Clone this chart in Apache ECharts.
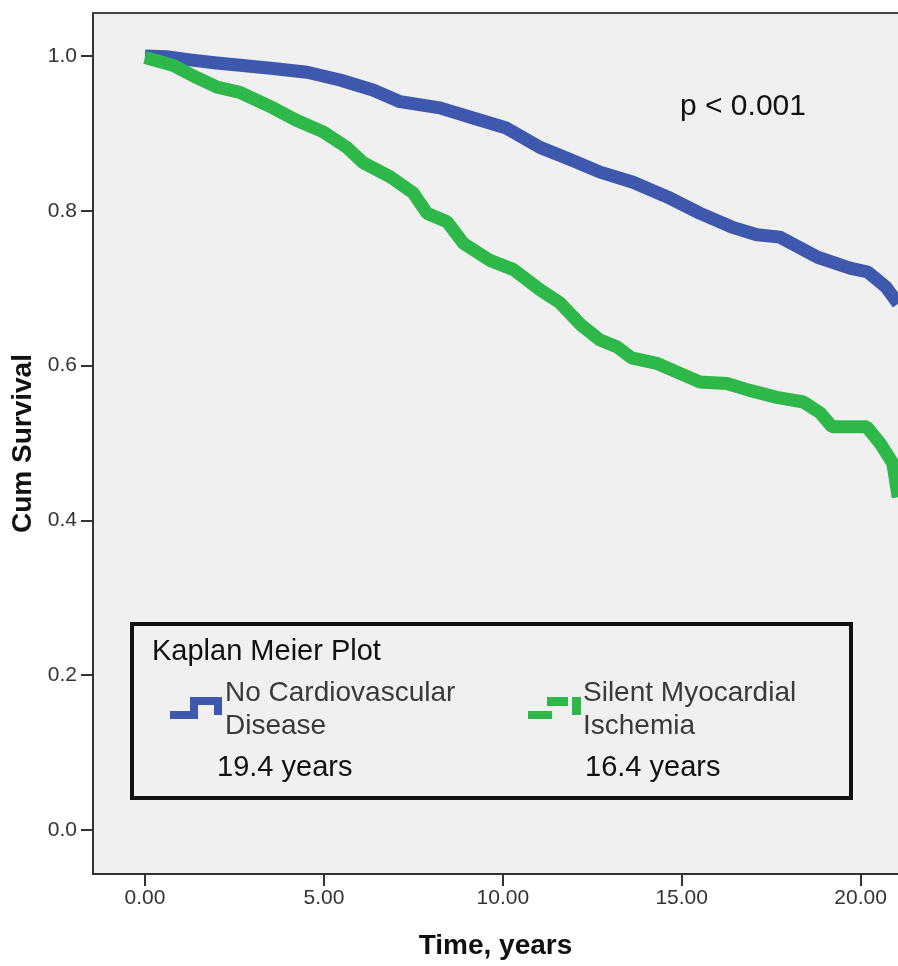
<!DOCTYPE html>
<html>
<head>
<meta charset="utf-8">
<title>Kaplan Meier Plot</title>
<script src="https://cdn.jsdelivr.net/npm/echarts@6/dist/echarts.min.js"></script>
<style>
  html, body { margin: 0; padding: 0; background: #fff; }
  #chart { width: 898px; height: 966px; }
</style>
</head>
<body>
<div id="chart"></div>
<script>
// survival curves (time in years, cumulative survival)
const noCvdTime = [0, 0.6, 1.26, 2.0, 2.66, 3.58, 4.53, 5.45, 6.37, 7.13, 8.24, 9.17, 10.1, 11.04, 11.9, 12.72, 13.64, 14.6, 15.5, 16.4, 17.1, 17.75, 18.8, 19.7, 20.2, 20.7, 21.05]
const noCvdSurv = [1.0, 0.999, 0.995, 0.991, 0.988, 0.984, 0.979, 0.969, 0.956, 0.941, 0.933, 0.920, 0.907, 0.882, 0.866, 0.850, 0.837, 0.818, 0.797, 0.779, 0.769, 0.766, 0.740, 0.726, 0.721, 0.702, 0.680]

const smiTime = [0, 0.78, 1.45, 2.0, 2.65, 3.58, 4.23, 4.98, 5.64, 6.1, 6.85, 7.5, 7.88, 8.44, 8.9, 9.64, 10.3, 11.04, 11.6, 12.2, 12.72, 13.2, 13.6, 14.3, 14.95, 15.5, 16.26, 16.9, 17.66, 18.4, 18.87, 19.2, 20.17, 20.54, 20.9, 21.05]
const smiSurv = [0.998, 0.988, 0.972, 0.960, 0.953, 0.933, 0.917, 0.902, 0.882, 0.862, 0.844, 0.823, 0.797, 0.786, 0.758, 0.736, 0.724, 0.698, 0.681, 0.652, 0.633, 0.624, 0.610, 0.603, 0.590, 0.579, 0.577, 0.568, 0.559, 0.553, 0.539, 0.521, 0.521, 0.500, 0.474, 0.430]

const xTicks = [0, 5, 10, 15, 20]
const yTicks = [0, 0.2, 0.4, 0.6, 0.8, 1.0]

const groupNames = ['No Cardiovascular\nDisease', 'Silent Myocardial\nIschemia']
const medianLabels = ['19.4 years', '16.4 years']
const pValueText = 'p < 0.001'

const BLUE = '#3d58ad'
const GREEN = '#2fb84a'
const FONT = 'Liberation Sans, Arial, sans-serif'

const toPairs = (t, s) => t.map((v, i) => [v, s[i]])

const chart = echarts.init(document.getElementById('chart'))

const X_MIN = -1.453
const X_MAX = 21.045

const option = {
  backgroundColor: '#fff',
  animation: false,
  grid: {
    left: 93,
    top: 13,
    right: 0,
    bottom: 92,
    show: true,
    backgroundColor: '#f0f0f0',
    borderWidth: 0
  },
  xAxis: [
    {
      type: 'value',
      min: X_MIN,
      max: X_MAX,
      name: 'Time, years',
      nameLocation: 'middle',
      nameGap: 58,
      nameTextStyle: { fontFamily: FONT, fontSize: 28, fontWeight: 'bold', color: '#111' },
      splitLine: { show: false },
      axisLine: { show: true, onZero: false, lineStyle: { color: '#333', width: 2 } },
      axisTick: { show: true, length: 12, lineStyle: { color: '#333', width: 2 }, customValues: xTicks },
      axisLabel: {
        customValues: xTicks,
        margin: 14,
        fontFamily: FONT,
        fontSize: 21,
        color: '#333',
        formatter: v => v.toFixed(2)
      }
    },
    {
      // top frame line only
      type: 'value',
      position: 'top',
      min: X_MIN,
      max: X_MAX,
      splitLine: { show: false },
      axisLine: { show: true, onZero: false, lineStyle: { color: '#444', width: 2 } },
      axisTick: { show: false },
      axisLabel: { show: false }
    }
  ],
  yAxis: {
    type: 'value',
    min: -0.0568,
    max: 1.0556,
    name: 'Cum Survival',
    nameLocation: 'middle',
    nameGap: 56,
    nameRotate: 90,
    nameTextStyle: { fontFamily: FONT, fontSize: 28, fontWeight: 'bold', color: '#111' },
    splitLine: { show: false },
    axisLine: { show: true, onZero: false, lineStyle: { color: '#333', width: 2 } },
    axisTick: { show: true, length: 12, lineStyle: { color: '#333', width: 2 }, customValues: yTicks },
    axisLabel: {
      customValues: yTicks,
      margin: 16,
      fontFamily: FONT,
      fontSize: 21,
      color: '#333',
      formatter: v => v.toFixed(1)
    }
  },
  series: [
    {
      name: groupNames[0],
      type: 'line',
      data: toPairs(noCvdTime, noCvdSurv),
      showSymbol: false,
      lineStyle: { color: BLUE, width: 13, join: 'round' },
      z: 3
    },
    {
      name: groupNames[1],
      type: 'line',
      data: toPairs(smiTime, smiSurv),
      showSymbol: false,
      lineStyle: { color: GREEN, width: 13, join: 'bevel' },
      z: 4
    }
  ],
  graphic: [
    {
      type: 'text',
      left: 680,
      top: 92,
      style: { text: pValueText, fontFamily: FONT, fontSize: 30, fill: '#111' },
      z: 10
    },
    {
      type: 'rect',
      shape: { x: 132, y: 624, width: 719, height: 174 },
      style: { fill: 'rgba(0,0,0,0)', stroke: '#111', lineWidth: 4 },
      z: 10
    },
    {
      type: 'text',
      left: 152,
      top: 637,
      style: { text: 'Kaplan Meier Plot', fontFamily: FONT, fontSize: 29, fill: '#111' },
      z: 10
    },
    // step-line legend icons
    {
      type: 'polyline',
      shape: { points: [[170, 715], [194, 715], [194, 701], [218, 701], [218, 715]] },
      style: { stroke: BLUE, lineWidth: 8, fill: null },
      z: 10
    },
    { type: 'rect', shape: { x: 528, y: 711, width: 24, height: 8 }, style: { fill: GREEN }, z: 10 },
    { type: 'rect', shape: { x: 547, y: 697, width: 21, height: 9 }, style: { fill: GREEN }, z: 10 },
    { type: 'rect', shape: { x: 572, y: 697, width: 9, height: 18 }, style: { fill: GREEN }, z: 10 },
    {
      type: 'text',
      left: 225,
      top: 677,
      style: { text: groupNames[0], fontFamily: FONT, fontSize: 28, lineHeight: 33, fill: '#3a3a3a' },
      z: 10
    },
    {
      type: 'text',
      left: 583,
      top: 677,
      style: { text: groupNames[1], fontFamily: FONT, fontSize: 28, lineHeight: 33, fill: '#3a3a3a' },
      z: 10
    },
    {
      type: 'text',
      left: 217,
      top: 753,
      style: { text: medianLabels[0], fontFamily: FONT, fontSize: 29, fill: '#111' },
      z: 10
    },
    {
      type: 'text',
      left: 585,
      top: 753,
      style: { text: medianLabels[1], fontFamily: FONT, fontSize: 29, fill: '#111' },
      z: 10
    }
  ]
}

chart.setOption(option)
</script>
</body>
</html>
